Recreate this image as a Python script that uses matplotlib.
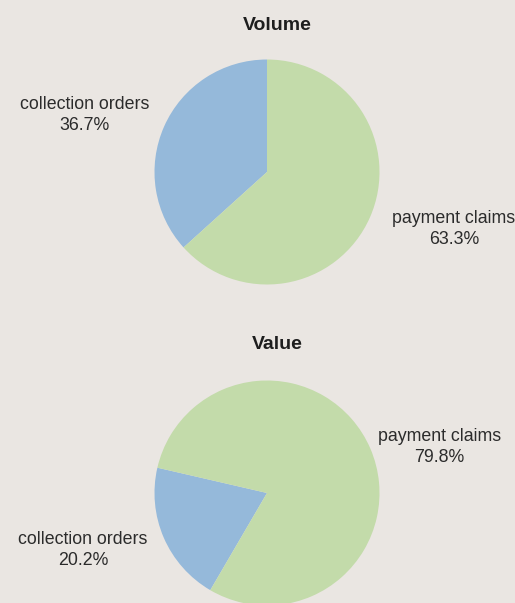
import matplotlib
matplotlib.use("Agg")
import matplotlib.pyplot as plt

# data
labels = ["collection orders", "payment claims"]
volume_pct = [36.7, 63.3]
value_pct = [20.2, 79.8]
colors = ["#95b9da", "#c3dbaa"]
bg = "#eae6e2"
txt = "#2b2b2b"

W, H = 515, 603
fig = plt.figure(figsize=(W / 100, H / 100), dpi=100, facecolor=bg)


def pie_axes(cx, cy, r):
    # pixel centre / radius -> figure fraction box
    return fig.add_axes([(cx - r) / W, 1 - (cy + r) / H, 2 * r / W, 2 * r / H])


def draw(ax, vals, start, lab_pos):
    ax.pie(vals, colors=colors, startangle=start, counterclock=True,
           wedgeprops=dict(linewidth=0), radius=1)
    ax.set_xlim(-1, 1)
    ax.set_ylim(-1, 1)
    ax.set_facecolor(bg)
    ax.axis("off")
    for lab, v, (x, y) in zip(labels, vals, lab_pos):
        ax.text(x, y, f"{lab}\n{v:.1f}%", ha="center", va="center",
                fontsize=12.8, color=txt, family="Liberation Sans",
                linespacing=1.35, clip_on=False)
    return ax


r = 112.5
ax1 = pie_axes(267, 172, r)
draw(ax1, volume_pct, 90, [(-1.62, 0.507), (1.662, -0.507)])
ax2 = pie_axes(267, 493, r)
draw(ax2, value_pct, 167, [(-1.636, -0.507), (1.53, 0.41)])

for title, ypx in [("Volume", 25), ("Value", 345)]:
    fig.text(277 / W, 1 - ypx / H, title, ha="center", va="center",
             fontsize=14, fontweight="bold", color="#1e1e1e",
             family="Liberation Sans")

fig.savefig("out.png", dpi=100, facecolor=bg)
